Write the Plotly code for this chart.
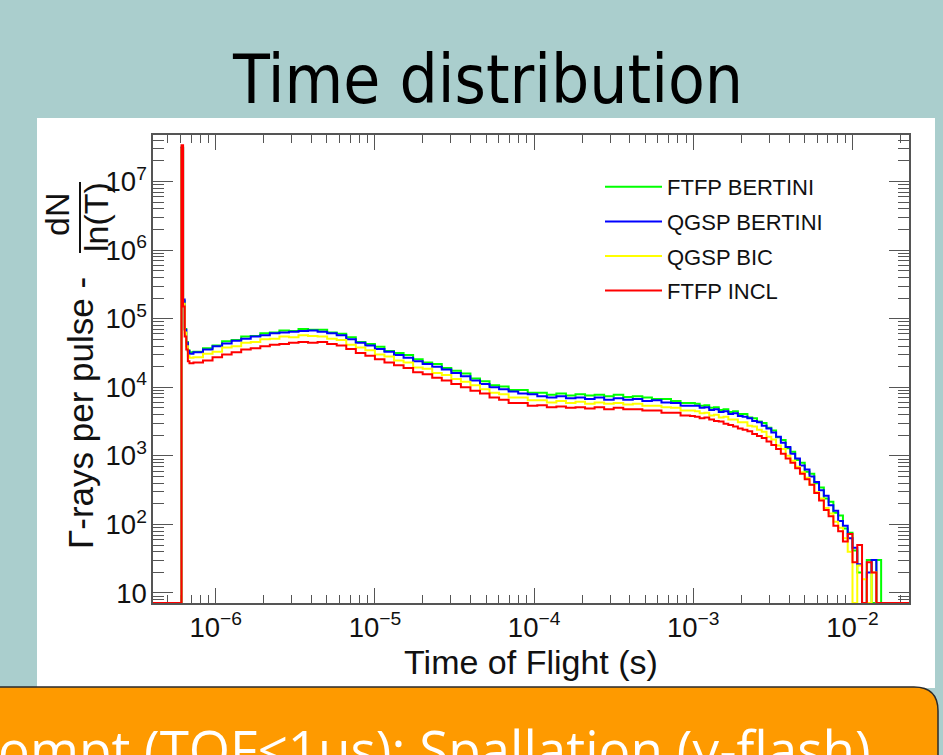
import numpy as np
import plotly.graph_objects as go

# ---------------- data ----------------
# histogram bin left edges, log10(time of flight / s)
edges_head = [-6.40, -6.215, -6.205, -6.195, -6.185, -6.175, -6.165]
edges_mid = np.round(np.linspace(-6.14, -3.02, 53), 3)
edges_tail = np.round(np.linspace(-2.99, -1.67, 45), 3)
edge_last = -1.64

# log10(gamma rays per pulse, dN/ln(T)); None = empty bin
ftfp_bertini = [None, 7.50, 5.26, 4.85, 4.66, 4.54, 4.51,
    4.52, 4.57, 4.61, 4.67, 4.69, 4.74, 4.75, 4.79, 4.80, 4.83,
    4.82, 4.85, 4.84, 4.84, 4.80, 4.78, 4.73, 4.66, 4.63, 4.59,
    4.53, 4.50, 4.47, 4.41, 4.36, 4.34, 4.28, 4.24, 4.20, 4.13,
    4.09, 4.03, 4.01, 3.96, 3.96, 3.92, 3.92, 3.89, 3.91, 3.88,
    3.90, 3.88, 3.89, 3.87, 3.89, 3.86, 3.87, 3.85, 3.83, 3.83,
    3.80, 3.77, 3.77,
    3.76, 3.73, 3.74, 3.70, 3.71, 3.67, 3.68, 3.64, 3.65, 3.61,
    3.61, 3.56, 3.55, 3.50, 3.48, 3.41, 3.37, 3.27, 3.23, 3.11,
    3.06, 2.94, 2.90, 2.77, 2.74, 2.60, 2.54, 2.38, 2.33, 2.17,
    2.13, 1.94, 1.88, 1.62, 1.30, None, 1.48, None, 1.48, None,
    None, None, None, None, None]

qgsp_bertini = [None, 7.49, 5.28, 4.84, 4.65, 4.53, 4.49,
    4.51, 4.55, 4.60, 4.64, 4.68, 4.71, 4.74, 4.76, 4.79, 4.80,
    4.81, 4.82, 4.83, 4.81, 4.79, 4.76, 4.70, 4.65, 4.61, 4.56,
    4.52, 4.47, 4.43, 4.38, 4.34, 4.30, 4.26, 4.21, 4.16, 4.10,
    4.05, 4.00, 3.97, 3.94, 3.91, 3.90, 3.87, 3.85, 3.87, 3.84,
    3.85, 3.83, 3.85, 3.82, 3.84, 3.82, 3.83, 3.80, 3.81, 3.78,
    3.77, 3.73, 3.73,
    3.73, 3.70, 3.71, 3.67, 3.68, 3.64, 3.65, 3.61, 3.62, 3.58,
    3.57, 3.55, 3.51, 3.49, 3.44, 3.40, 3.34, 3.28, 3.19, 3.13,
    3.03, 2.96, 2.86, 2.80, 2.70, 2.62, 2.50, 2.42, 2.28, 2.20,
    2.05, 1.98, 1.80, 1.66, 1.42, None, 1.30, 1.48, None, None,
    None, None, None, None, None]

qgsp_bic = [None, 7.48, 5.22, 4.80, 4.60, 4.46, 4.43,
    4.44, 4.49, 4.52, 4.58, 4.60, 4.65, 4.66, 4.70, 4.71, 4.74,
    4.73, 4.76, 4.75, 4.74, 4.71, 4.69, 4.62, 4.58, 4.54, 4.48,
    4.45, 4.39, 4.36, 4.29, 4.27, 4.21, 4.18, 4.12, 4.08, 4.03,
    3.97, 3.92, 3.90, 3.85, 3.85, 3.81, 3.81, 3.78, 3.80, 3.77,
    3.79, 3.76, 3.78, 3.76, 3.77, 3.75, 3.76, 3.73, 3.73, 3.71,
    3.70, 3.66, 3.66,
    3.65, 3.62, 3.63, 3.59, 3.60, 3.56, 3.57, 3.53, 3.53, 3.49,
    3.49, 3.44, 3.43, 3.38, 3.35, 3.28, 3.24, 3.15, 3.10, 3.00,
    2.93, 2.84, 2.76, 2.68, 2.58, 2.47, 2.38, 2.24, 2.16, 2.04,
    1.95, 1.80, 1.60, None, 1.40, 1.20, None, 1.30, None, None,
    None, None, None, None, None]

ftfp_incl = [None, 7.53, 5.18, 4.74, 4.55, 4.38, 4.35,
    4.36, 4.39, 4.44, 4.48, 4.51, 4.55, 4.57, 4.60, 4.62, 4.63,
    4.65, 4.66, 4.65, 4.66, 4.63, 4.61, 4.56, 4.50, 4.46, 4.41,
    4.36, 4.32, 4.28, 4.22, 4.19, 4.14, 4.10, 4.05, 4.00, 3.95,
    3.91, 3.85, 3.82, 3.77, 3.77, 3.73, 3.74, 3.71, 3.72, 3.70,
    3.71, 3.69, 3.71, 3.68, 3.70, 3.68, 3.68, 3.66, 3.66, 3.63,
    3.63, 3.59, 3.58,
    3.57, 3.55, 3.56, 3.53, 3.51, 3.50, 3.47, 3.45, 3.43, 3.40,
    3.38, 3.36, 3.32, 3.29, 3.26, 3.21, 3.16, 3.10, 3.03, 2.96,
    2.90, 2.82, 2.74, 2.66, 2.58, 2.46, 2.35, 2.21, 2.12, 1.98,
    1.90, 1.75, 1.86, 1.45, 1.70, None, 1.45, 1.30, None, None,
    None, None, None, None, None]

series_names = ["FTFP BERTINI", "QGSP BERTINI", "QGSP BIC", "FTFP INCL"]
series_colors = ["#00ff00", "#0000ff", "#ffff00", "#ff0000"]

X_RANGE = [-6.394, -1.645]   # log10 s
Y_RANGE = [0.854, 7.68]      # log10 counts
Y_FLOOR = 10 ** Y_RANGE[0]   # empty bins drawn on the frame floor (ROOT style)

# ---------------- figure ----------------
edges = np.concatenate([edges_head, edges_mid, edges_tail, [edge_last]])
x_sec = 10 ** edges

FONT = "Liberation Sans, Arial, Helvetica, sans-serif"
TEAL = "#aacecd"

fig = go.Figure()
for name, logs, color in zip(series_names,
                             [ftfp_bertini, qgsp_bertini, qgsp_bic, ftfp_incl],
                             series_colors):
    counts = np.array([10 ** v if v is not None else 0.0 for v in logs])
    yplot = np.where(counts > 0, counts, Y_FLOOR)
    yplot = np.append(yplot, yplot[-1])
    fig.add_trace(go.Scatter(
        x=x_sec, y=yplot, mode="lines", name=name, legendgroup=name,
        line=dict(color=color, width=2, shape="hv"),
    ))

axis_common = dict(
    type="log", showline=True, linecolor="#555555", linewidth=1.5,
    mirror="allticks", ticks="inside", tickcolor="#555555", tickwidth=1.2,
    dtick=1, exponentformat="power", showgrid=False, zeroline=False,
    tickfont=dict(family=FONT, size=22, color="#111111"),
    layer="below traces",
)

def px(x):
    return (x - 153) / 756

def py(y):
    return (603 - y) / 468

fig.update_layout(
    width=943, height=755,
    margin=dict(l=153, r=34, t=135, b=152),
    paper_bgcolor=TEAL, plot_bgcolor="white",
    font=dict(family=FONT, color="#111111"),
    xaxis=dict(axis_common, range=X_RANGE, ticklen=15,
               minor=dict(ticks="inside", ticklen=8, dtick="D1",
                          tickcolor="#555555", tickwidth=1.2, showgrid=False),
               title=dict(text="Time of Flight (s)",
                          font=dict(family=FONT, size=34, color="#111111"),
                          standoff=5)),
    yaxis=dict(axis_common, range=Y_RANGE, ticklen=20,
               minor=dict(ticks="inside", ticklen=11, dtick="D1",
                          tickcolor="#555555", tickwidth=1.2, showgrid=False)),
    showlegend=True,
    legend=dict(x=px(600), y=py(166),
                xanchor="left", yanchor="top",
                bgcolor="rgba(0,0,0,0)", borderwidth=0,
                font=dict(family=FONT, size=22, color="#111111"),
                itemwidth=57, traceorder="grouped", tracegroupgap=3),
)

shapes = [
    # white chart panel
    dict(type="rect", xref="paper", yref="paper", layer="below",
         x0=px(37), x1=px(935), y0=py(688), y1=py(118),
         fillcolor="white", line=dict(width=0)),
    # orange text box (rounded corner at top-right)
    dict(type="path", xref="paper", yref="paper", layer="above",
         path=(f"M {px(-10)},{py(687)} L {px(914)},{py(687)} "
               f"Q {px(938)},{py(687)} {px(938)},{py(711)} "
               f"L {px(938)},{py(790)} L {px(-10)},{py(790)} Z"),
         fillcolor="#fe9a00", line=dict(color="#2a2a2a", width=1.5)),
    # fraction bar of dN / ln(T)
    dict(type="line", xref="paper", yref="paper",
         x0=px(80), x1=px(80), y0=py(182), y1=py(253),
         line=dict(color="#111111", width=2)),
]

annotations = [
    dict(text="Time distribution", x=px(487), y=py(80), xref="paper", yref="paper",
         showarrow=False, xanchor="center", yanchor="middle",
         font=dict(family="DejaVu Sans Condensed, DejaVu Sans, sans-serif",
                   size=67, color="black")),
    dict(text="ompt (TOF≤1us): Spallation (γ-flash)", x=px(-4), y=py(748),
         xref="paper", yref="paper", showarrow=False, xanchor="left", yanchor="middle",
         font=dict(family="Open Sans, Noto Sans, sans-serif", size=53, color="white")),
    dict(text="Γ-rays per pulse -", x=px(80), y=py(413), xref="paper", yref="paper",
         showarrow=False, textangle=-90, xanchor="center", yanchor="middle",
         font=dict(family=FONT, size=35, color="#111111")),
    dict(text="dN", x=px(57), y=py(215), xref="paper", yref="paper",
         showarrow=False, textangle=-90, xanchor="center", yanchor="middle",
         font=dict(family=FONT, size=34, color="#111111")),
    dict(text="ln(T)", x=px(96), y=py(217), xref="paper", yref="paper",
         showarrow=False, textangle=-90, xanchor="center", yanchor="middle",
         font=dict(family=FONT, size=34, color="#111111")),
]

fig.update_layout(shapes=shapes, annotations=annotations)

fig.write_html(
    "out.html",
    config={"displayModeBar": False},
    post_script="document.body.style.margin='0';"
                "document.documentElement.style.overflow='hidden';",
)
